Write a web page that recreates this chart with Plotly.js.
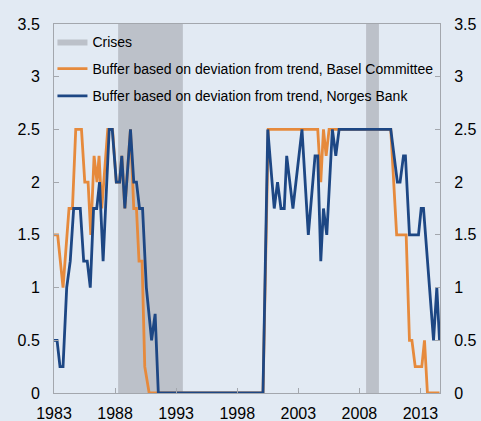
<!DOCTYPE html>
<html>
<head>
<meta charset="utf-8">
<script src="https://cdn.plot.ly/plotly-3.0.1.min.js"></script>
<style>html,body{margin:0;padding:0;background:#e2eaf3;}#chart{width:481px;height:421px;}</style>
</head>
<body>
<div id="chart"></div>
<script>
// Crisis periods (decimal years)
const crisisStart = [1988.25, 2008.55];
const crisisEnd   = [1993.55, 2009.6];

// Buffer based on deviation from trend, Basel Committee
const baselYears = [1983.00,1983.30,1983.74,1984.23,1984.51,1984.78,1985.25,1985.52,1985.79,1986.01,1986.28,1986.52,1986.69,1986.91,1987.40,1987.57,1987.79,1988.10,1988.37,1988.55,1988.80,1989.26,1989.53,1989.75,1989.96,1990.21,1990.43,1990.79,2000.11,2000.54,2004.59,2004.84,2005.06,2005.28,2005.52,2010.57,2011.05,2011.83,2012.10,2012.30,2012.57,2013.11,2013.33,2013.57,2014.56];
const baselValues = [1.5,1.5,1.0,1.75,1.75,2.5,2.5,2.0,2.0,1.5,2.25,2.0,2.25,1.75,2.5,2.5,2.5,2.0,2.0,2.25,1.75,2.5,1.75,1.75,1.25,1.25,0.25,0,0,2.5,2.5,2.0,2.5,2.25,2.5,2.5,1.5,1.5,0.5,0.5,0.25,0.25,0.5,0,0];

// Buffer based on deviation from trend, Norges Bank
const nbYears = [1983.00,1983.25,1983.49,1983.74,1984.04,1984.33,1984.61,1985.15,1985.43,1985.72,1985.97,1986.24,1986.50,1986.73,1987.02,1987.52,1987.77,1988.10,1988.37,1988.55,1988.80,1989.26,1989.53,1989.75,1990.00,1990.25,1990.56,1990.99,1991.28,1991.54,2000.11,2000.50,2001.03,2001.30,2001.58,2001.85,2002.05,2002.56,2003.30,2003.82,2004.37,2004.59,2004.84,2005.06,2005.33,2005.79,2006.07,2006.34,2010.57,2011.11,2011.33,2011.61,2011.77,2012.10,2012.84,2013.06,2013.25,2014.07,2014.34,2014.56];
const nbValues = [0.5,0.5,0.25,0.25,1.0,1.25,1.75,1.75,1.25,1.25,1.0,1.75,1.75,2.0,1.25,2.5,2.5,2.0,2.0,2.25,1.75,2.5,2.0,2.0,1.75,1.75,1.0,0.5,0.75,0,0,2.5,1.75,2.0,1.75,1.75,2.25,1.75,2.5,1.5,2.25,2.25,1.25,1.75,1.5,2.5,2.25,2.5,2.5,2.0,2.0,2.25,2.25,1.5,1.5,1.75,1.75,0.5,1.0,0.5];

const xTicks = [1983,1988,1993,1998,2003,2008,2013];
const yMax = 3.5;

const FONT = 'Liberation Sans, Arial, sans-serif';
const BG = '#e2eaf3';

// build crisis polygons
const cx = [], cy = [];
for (let i = 0; i < crisisStart.length; i++) {
  if (i > 0) { cx.push(null); cy.push(null); }
  cx.push(crisisStart[i], crisisStart[i], crisisEnd[i], crisisEnd[i], crisisStart[i]);
  cy.push(0, yMax, yMax, 0, 0);
}

const traces = [
  {x: cx, y: cy, type: 'scatter', mode: 'lines', fill: 'toself', fillcolor: '#bcc1c9',
   line: {width: 0, color: '#bcc1c9'}, name: 'Crises', hoverinfo: 'skip', legendgroup: 'g1'},
  {x: baselYears, y: baselValues, type: 'scatter', mode: 'lines',
   line: {color: '#e68a3c', width: 2.8}, name: 'Buffer based on deviation from trend, Basel Committee', legendgroup: 'g2'},
  {x: nbYears, y: nbValues, type: 'scatter', mode: 'lines',
   line: {color: '#1d4784', width: 2.8}, name: 'Buffer based on deviation from trend, Norges Bank', legendgroup: 'g3'},
  {x: [xTicks[0]], y: [0], yaxis: 'y2', type: 'scatter', mode: 'markers', marker: {opacity: 0}, showlegend: false, hoverinfo: 'skip'}
];

const layout = {
  width: 481, height: 421,
  margin: {l: 54, r: 41, t: 24, b: 28},
  paper_bgcolor: BG, plot_bgcolor: BG,
  font: {family: FONT, color: '#000', size: 16},
  showlegend: true,
  legend: {x: -0.004, y: 0.995, xanchor: 'left', yanchor: 'top', bgcolor: 'rgba(0,0,0,0)',
           font: {family: FONT, size: 14, color: '#000'}, traceorder: 'grouped', tracegroupgap: 6},
  xaxis: {range: [1983, 2014.6], tickvals: xTicks, ticktext: xTicks.map(String),
          ticks: 'inside', ticklen: 5, tickcolor: '#a3a7ad', showline: true, linecolor: '#a3a7ad',
          linewidth: 1, mirror: true, showgrid: false, zeroline: false,
          tickfont: {family: FONT, size: 16}, ticklabelstandoff: 6},
  yaxis: {range: [0, yMax], dtick: 0.5, ticks: 'inside', ticklen: 5, tickcolor: '#a3a7ad',
          showline: true, linecolor: '#a3a7ad', linewidth: 1, showgrid: false, zeroline: false,
          tickfont: {family: FONT, size: 16}, ticklabelstandoff: 10},
  yaxis2: {range: [0, yMax], dtick: 0.5, overlaying: 'y', side: 'right', ticks: 'inside', ticklen: 5,
           tickcolor: '#a3a7ad', showline: true, linecolor: '#a3a7ad', linewidth: 1, showgrid: false,
           zeroline: false, tickfont: {family: FONT, size: 16}, ticklabelstandoff: 10}
};

Plotly.newPlot('chart', traces, layout, {staticPlot: true, displayModeBar: false});
</script>
</body>
</html>
